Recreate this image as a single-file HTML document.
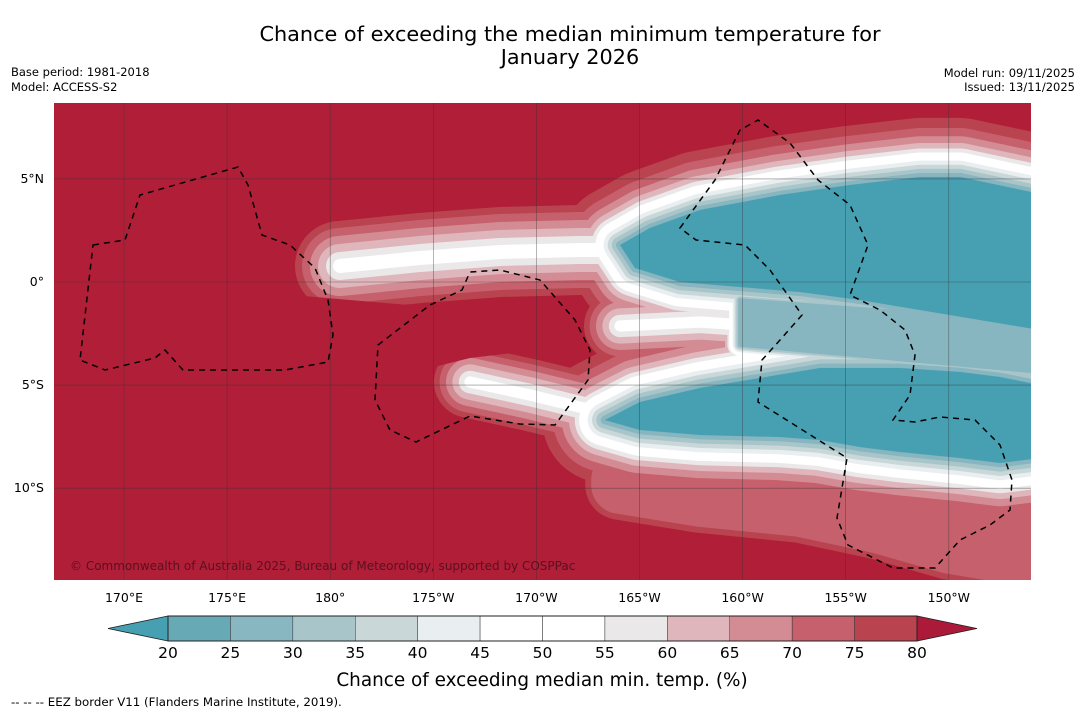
<!DOCTYPE html>
<html><head><meta charset="utf-8">
<style>
body{margin:0;background:#fff;width:1085px;height:713px;overflow:hidden;font-family:"DejaVu Sans","Liberation Sans",sans-serif;}
svg{position:absolute;left:0;top:0}
</style></head>
<body>
<svg id="s" width="1085" height="713" viewBox="0 0 1085 713">
<text x="570" y="41" font-size="20.8" text-anchor="middle">Chance of exceeding the median minimum temperature for</text>
<text x="570" y="64" font-size="20.8" text-anchor="middle">January 2026</text>
<text x="11" y="76" font-size="11.5">Base period: 1981-2018</text>
<text x="11" y="91" font-size="11.5">Model: ACCESS-S2</text>
<text x="1075" y="77" font-size="11.5" text-anchor="end">Model run: 09/11/2025</text>
<text x="1075" y="91" font-size="11.5" text-anchor="end">Issued: 13/11/2025</text>
<defs><clipPath id="mc"><rect x="54" y="103" width="977" height="477"/></clipPath></defs>
<g clip-path="url(#mc)" id="map">
<rect x="54" y="103" width="977" height="477" fill="#b01e38"/>
<g id="bands"></g>
<g id="grid"></g>
<g id="eez" fill="none" stroke="#000" stroke-width="1.5" stroke-dasharray="6,5"></g>
<text x="70" y="570" font-size="12" fill="#5a1020">© Commonwealth of Australia 2025, Bureau of Meteorology, supported by COSPPac</text>
</g>
<g id="axes"></g>
<g id="cbar"></g>
<text x="542" y="686" font-size="18.4" text-anchor="middle">Chance of exceeding median min. temp. (%)</text>
<text x="11" y="706" font-size="11.8">--  --  -- EEZ border V11 (Flanders Marine Institute, 2019).</text>
</svg>
<script>
const NS="http://www.w3.org/2000/svg";
const levels=[20,25,30,35,40,45,50,55,60,65,70,75,80];
const levelColors=["#68a9b6","#88b6c1","#a8c6ca","#c9d7d8","#e9eef0","#ffffff","#ffffff","#ebe8e9","#dfb6bb","#d48c94","#c6606d","#b9434f"];
const lonTicks=[170,175,180,-175,-170,-165,-160,-155,-150];
const lonLabels=["170°E","175°E","180°","175°W","170°W","165°W","160°W","155°W","150°W"];
const latTicks=[5,0,-5,-10];
const latLabels=["5°N","0°","5°S","10°S"];
function xLon(l){const e=l<0?l+360:l;return 124+(e-170)*20.62;}
function yLat(l){return 282-l*20.62;}
function mk(tag,attrs,parent){const e=document.createElementNS(NS,tag);for(const k in attrs)e.setAttribute(k,attrs[k]);parent.appendChild(e);return e;}
const bandColors=["#b9434f","#c6606d","#d48c94","#dfb6bb","#ebe8e9","#ffffff","#e9eef0","#c9d7d8","#a8c6ca","#87b5c0","#47a0b2"];
const bandHalf=[87,72,60,50,42,36,24,18,12,6,0];
const tongueHalf=[45,38,30,22,14,7];
const shapes=[
 {d:"M620,245 L650,228 L700,210 L780,195 L850,185 L920,177 L960,177 L1031,192 L1040,192 L1040,330 L980,320 L920,310 L860,300 L800,292 L740,287 L680,282 L635,268 Z",s:0.68,stop:10,closed:1},
 {d:"M605,420 L640,402 L700,388 L760,378 L820,368 L900,368 L960,372 L1000,377 L1040,385 L1040,458 L1000,463 L960,458 L900,452 L860,447 L820,440 L780,437 L700,435 L640,430 Z",s:0.72,stop:10,closed:1},
 {d:"M740,300 L1040,322 L1040,372 L740,345 Z",s:0.3,stop:9,closed:1},
 {d:"M340,266 L420,258 L500,252 L580,250 L615,250",s:1,stop:5,closed:0,h:tongueHalf},
 {d:"M470,382 L530,395 L600,412",s:0.8,stop:5,closed:0,h:tongueHalf},
 {d:"M620,326 L700,322 L745,325",s:0.8,stop:5,closed:0,h:tongueHalf},
 {d:"M620,485 L700,498 L800,508 L880,525 L950,545 L1040,560 L1040,480 L620,480 Z",s:0.4,stop:1,closed:1},
 {d:"M1020,362 L1040,362",s:0.3,stop:5,closed:0}
];
const bandG=document.getElementById('bands');
for(let i=0;i<bandColors.length;i++){
 shapes.forEach(sh=>{
  if(i>sh.stop)return;
  const hw=(sh.h?sh.h[i]:bandHalf[i]);
  const w=hw*2*sh.s;
  const p=mk('path',{d:sh.d,fill:sh.closed?bandColors[i]:'none',stroke:bandColors[i],'stroke-width':Math.max(w,0.1),'stroke-linejoin':'round','stroke-linecap':'round'},bandG);
  
  
 });
}
const notch=mk('path',{d:"M280,294 L420,306 L500,316 L560,324 L585,334 L570,348 L520,352 L470,358 L430,368 L280,400 Z",fill:"#b01e38"},bandG);


const gridG=document.getElementById('grid'),axG=document.getElementById('axes');
lonTicks.forEach((l,i)=>{const x=xLon(l);
 const g=mk('line',{x1:x,x2:x,y1:103,y2:580,stroke:"#333",'stroke-width':0.6,opacity:0.6},gridG);
 
 const t=mk('text',{x:x,y:602,'font-size':12.5,'text-anchor':'middle'},axG);t.textContent=lonLabels[i];
 });
latTicks.forEach((l,i)=>{const y=yLat(l);
 const g=mk('line',{x1:54,x2:1031,y1:y,y2:y,stroke:"#333",'stroke-width':0.6,opacity:0.6},gridG);
 
 const t=mk('text',{x:44,y:y+4,'font-size':12.5,'text-anchor':'end'},axG);t.textContent=latLabels[i];
 });
const eezPaths=[
"M93,245 L125,240 L140,195 L175,185 L238,167 L248,185 L262,235 L290,245 L315,268 L328,300 L333,335 L328,362 L285,370 L183,370 L165,350 L155,358 L105,370 L80,360 Z",
"M378,345 L430,305 L462,290 L470,272 L500,270 L540,280 L575,320 L590,350 L588,380 L555,425 L520,424 L470,416 L416,442 L390,430 L375,400 Z",
"M680,228 L715,180 L740,130 L758,120 L790,143 L818,180 L850,205 L868,245 L850,295 L880,310 L905,330 L915,355 L910,395 L893,420 L915,422 L940,417 L975,420 L1000,445 L1012,480 L1010,510 L990,525 L960,540 L935,568 L893,568 L848,545 L837,518 L847,458 L758,402 L762,360 L780,340 L802,315 L770,270 L745,245 L696,240 Z"];
const eezG=document.getElementById('eez');
eezPaths.forEach(d=>{const p=mk('path',{d:d},eezG);});
const cb=document.getElementById('cbar');
const cx0=168,cx1=917,cy=616,ch=25;
function xLev(v){return cx0+(v-levels[0])/(levels[levels.length-1]-levels[0])*(cx1-cx0);}
const lt=mk('polygon',{points:`${cx0},${cy} ${cx0},${cy+ch} 108,${cy+ch/2}`,fill:"#47a0b2",stroke:"#222",'stroke-width':0.8},cb);

const rt=mk('polygon',{points:`${cx1},${cy} ${cx1},${cy+ch} 977,${cy+ch/2}`,fill:"#ac1a3a",stroke:"#222",'stroke-width':0.8},cb);

levelColors.forEach((c,i)=>{const x=xLev(levels[i]),w=xLev(levels[i+1])-x;
 const r=mk('rect',{x:x,y:cy,width:w,height:ch,fill:c,stroke:"#333",'stroke-width':0.5},cb);
 });
mk('rect',{x:cx0,y:cy,width:cx1-cx0,height:ch,fill:"none",stroke:"#222",'stroke-width':1},cb);
levels.forEach(v=>{const t=mk('text',{x:xLev(v),y:658,'font-size':15.5,'text-anchor':'middle'},cb);t.textContent=v;
 });
</script>
</body></html>
